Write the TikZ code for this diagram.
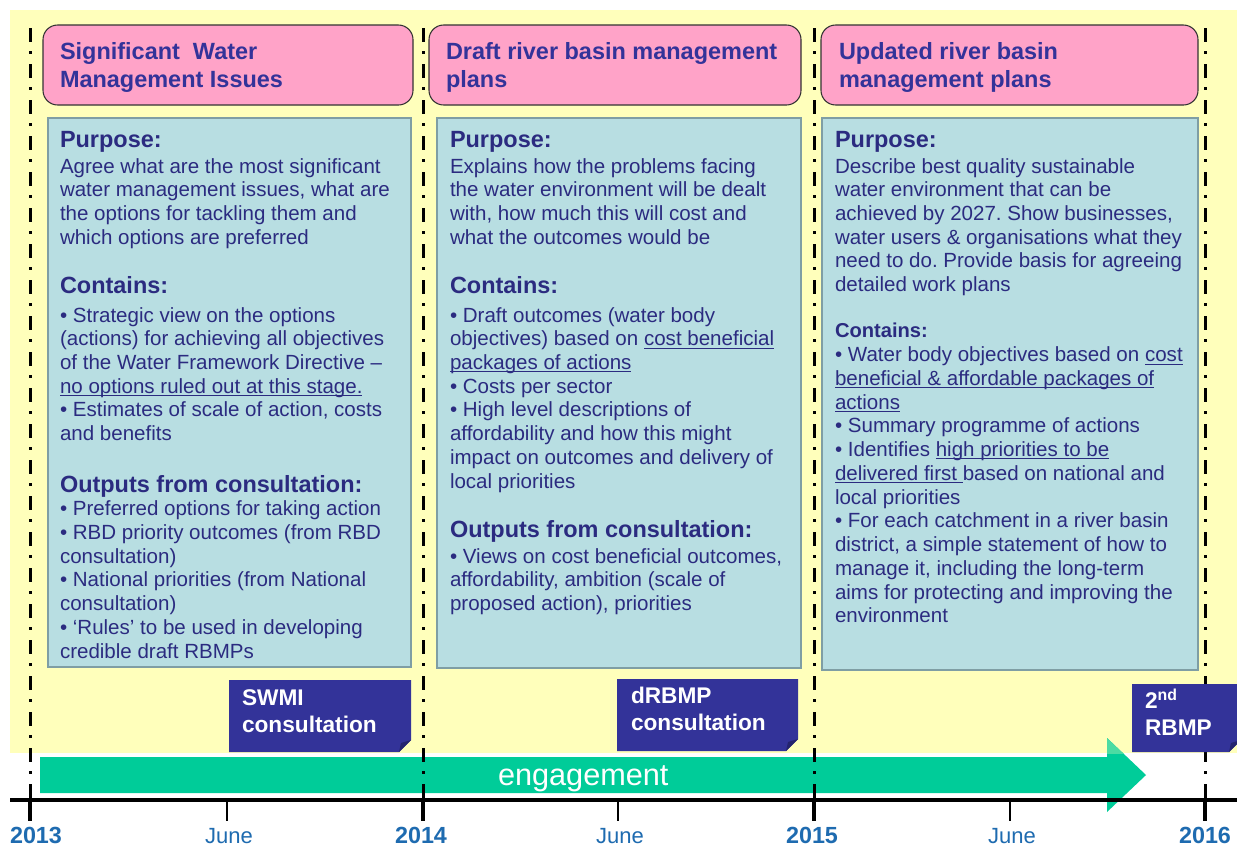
\documentclass[tikz,border=0pt]{standalone}
\usepackage{fontspec}
\setmainfont{Liberation Sans}
\usepackage{tikz}
\usepackage{xcolor}
\usetikzlibrary{positioning,shapes,arrows.meta}
\frenchspacing

\definecolor{paleyellow}{HTML}{FFFFBB}
\definecolor{titlepink}{HTML}{FFA3C8}
\definecolor{panelblue}{HTML}{B8DEE2}
\definecolor{paneledge}{HTML}{7F9EA4}
\definecolor{navy}{HTML}{333399}
\definecolor{foldnavy}{HTML}{24246E}
\definecolor{inknavy}{HTML}{2B2B80}
\definecolor{engreen}{HTML}{00CC99}
\definecolor{yearblue}{HTML}{1E6BB0}

\newcommand{\hd}{\bfseries\fontsize{17.6}{17.8}\selectfont\strut}
\newcommand{\hds}{\bfseries\fontsize{15.1}{17.8}\selectfont\strut}
\newcommand{\undl}[1]{\setbox0\hbox{#1}\rlap{\rule[-2.1pt]{\wd0}{0.7pt}}\box0}

\begin{document}
\begin{tikzpicture}[x=0.75pt,y=-0.75pt]
\tikzstyle{every node}=[inner sep=0pt,outer sep=0pt]
\tikzstyle{titlebox}=[draw=black!80,line width=0.8pt,fill=titlepink,rounded corners=11pt]
\tikzstyle{panel}=[draw=paneledge,line width=2.2pt,fill=panelblue]
\tikzstyle{titletext}=[anchor=north west,align=left,text=navy,font=\bfseries\fontsize{17.6}{20.3}\selectfont]
\tikzstyle{paneltext}=[anchor=north west,align=left,text=inknavy,font=\fontsize{15.4}{17.8}\selectfont]
\tikzstyle{consult}=[anchor=north west,align=left,text=white,font=\bfseries\fontsize{17}{20.3}\selectfont]
\tikzstyle{yearline}=[line width=2.25pt,dash pattern=on 10.5pt off 6.75pt on 2.25pt off 7.5pt]
\tikzstyle{year}=[anchor=base,text=yearblue,font=\bfseries\fontsize{17.5}{20}\selectfont]
\tikzstyle{month}=[anchor=base,text=yearblue,font=\fontsize{16.5}{20}\selectfont]

\useasboundingbox (0,0) rectangle (1237,847);
\fill[white] (0,0) rectangle (1237,847);
\fill[paleyellow] (10,10) rectangle (1237,753);

% engagement arrow
\fill[engreen] (40,757) -- (1107,757) -- (1107,738) -- (1146,775) -- (1107,812) -- (1107,793) -- (40,793) -- cycle;
\begin{scope}
\clip (10,10) rectangle (1237,753);
\fill[engreen!70!paleyellow] (1107,738) -- (1146,775) -- (1107,812) -- cycle;
\end{scope}
\node[anchor=base west,text=white,font=\fontsize{23}{26}\selectfont] (eng) at (498,785) {engagement};

% time axis
\draw[line width=3.2pt] (10,800) -- (1237,800);
\foreach \x in {30,423,814,1205}
  \draw[line width=3pt] (\x,800) -- (\x,821);
\foreach \x in {227,618,1010}
  \draw[line width=1.8pt] (\x,800) -- (\x,821);
\foreach \x in {30,423,814,1205}
  \draw[yearline] (\x,28) -- (\x,800);

% titles
\draw[titlebox] (43,25) rectangle (413,105);
\draw[titlebox] (429,25) rectangle (801,105);
\draw[titlebox] (821,25) rectangle (1198,105);
\node[titletext] (t1) at (60,41) {\strut Significant\ \ Water\\Management Issues};
\node[titletext] (t2) at (446,41) {\strut Draft river basin management\\plans};
\node[titletext] (t3) at (839,41) {\strut Updated river basin\\management plans};

% panels
\draw[panel] (48,118) rectangle (411,667);
\draw[panel] (437,118) rectangle (801,668);
\draw[panel] (822,118) rectangle (1198,670);

\node[paneltext] (p1) at (60,130.4) {{\hd Purpose:}\\[1.7pt]
Agree what are the most significant\\
water management issues, what are\\
the options for tackling them and\\
which options are preferred\\[18.8pt]
{\hd Contains:}\\[3.95pt]
• Strategic view on the options\\
(actions) for achieving all objectives\\
of the Water Framework Directive –\\
\undl{no options ruled out at this stage.}\\
• Estimates of scale of action, costs\\
and benefits\\[20.7pt]
{\hd Outputs from consultation:}\\
• Preferred options for taking action\\
• RBD priority outcomes (from RBD\\
consultation)\\
• National priorities (from National\\
consultation)\\
• ‘Rules’ to be used in developing\\
credible draft RBMPs};

\node[paneltext] (p2) at (450,130.4) {{\hd Purpose:}\\[1.7pt]
Explains how the problems facing\\
the water environment will be dealt\\
with, how much this will cost and\\
what the outcomes would be\\[18.8pt]
{\hd Contains:}\\[3.95pt]
• Draft outcomes (water body\\
objectives) based on \undl{cost beneficial}\\
\undl{packages of actions}\\
• Costs per sector\\
• High level descriptions of\\
affordability and how this might\\
impact on outcomes and delivery of\\
local priorities\\[19pt]
{\hd Outputs from consultation:}\\[1.7pt]
• Views on cost beneficial outcomes,\\
affordability, ambition (scale of\\
proposed action), priorities};

\node[paneltext] (p3) at (835,130.4) {{\hd Purpose:}\\[1.7pt]
Describe best quality sustainable\\
water environment that can be\\
achieved by 2027. Show businesses,\\
water users \& organisations what they\\
need to do. Provide basis for agreeing\\
detailed work plans\\[16.9pt]
{\hds Contains:}\\
• Water body objectives based on \undl{cost}\\
\undl{beneficial \& affordable packages of}\\
\undl{actions}\\
• Summary programme of actions\\
• Identifies \undl{high priorities to be}\\
\undl{delivered first }based on national and\\
local priorities\\
• For each catchment in a river basin\\
district, a simple statement of how to\\
manage it, including the long-term\\
aims for protecting and improving the\\
environment};

% consultation flags
\foreach \xa/\ya/\xb/\yb in {229/680/411/752, 617/679/798/751, 1132/684/1241/752}{
  \fill[navy] (\xa,\ya) -- (\xb,\ya) -- (\xb,\yb-12) -- (\xb-12,\yb) -- (\xa,\yb) -- cycle;
  \fill[foldnavy] (\xb-12,\yb) -- (\xb,\yb-12) -- (\xb-10,\yb-9) -- cycle;
}
\node[consult] (swmi) at (242,686.5) {\strut SWMI\\consultation};
\node[consult] (drbmp) at (631,684.5) {\strut dRBMP\\consultation};
\node[consult] (rbmp2) at (1145,688.5) {\strut 2\textsuperscript{nd}\\RBMP};

% dates
\node[year] (y13) at (36,843) {2013};
\node[year] (y14) at (421,843) {2014};
\node[year] (y15) at (812,843) {2015};
\node[year] (y16) at (1205,843) {2016};
\node[month] (m1) at (229,843) {June};
\node[month] (m2) at (620,843) {June};
\node[month] (m3) at (1012,843) {June};
\end{tikzpicture}
\end{document}
